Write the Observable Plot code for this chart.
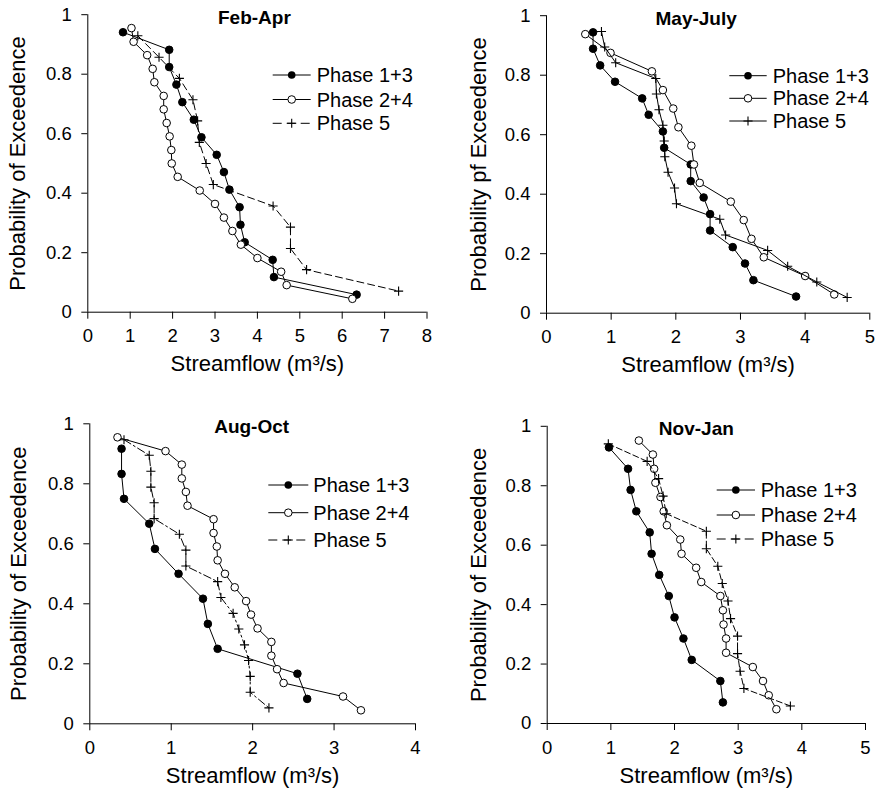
<!DOCTYPE html>
<html>
<head>
<meta charset="utf-8">
<script src="https://cdn.jsdelivr.net/npm/d3@7"></script>
<script src="https://cdn.jsdelivr.net/npm/@observablehq/plot@0.6"></script>
<style>
  body { margin: 0; background: #fff; }
  #chart { position: relative; width: 878px; height: 794px; font-family: "Liberation Sans", Arial, sans-serif; }
</style>
</head>
<body>
<div id="chart"></div>
<script>
// ---------- DATA ----------
const seriesNames = ["Phase 1+3", "Phase 2+4", "Phase 5"];
const probTicks = [0, 0.2, 0.4, 0.6, 0.8, 1];

// Feb-Apr
const febApr_flow13 = [0.83, 1.92, 1.92, 2.09, 2.23, 2.50, 2.68, 3.04, 3.21, 3.34, 3.58, 3.60, 3.70, 4.36, 4.39, 6.34];
const febApr_prob13 = [0.941, 0.882, 0.824, 0.765, 0.706, 0.647, 0.588, 0.529, 0.471, 0.412, 0.353, 0.294, 0.235, 0.176, 0.118, 0.059];
const febApr_flow24 = [1.03, 1.08, 1.40, 1.53, 1.57, 1.79, 1.79, 1.86, 1.93, 1.97, 1.98, 2.12, 2.64, 3.00, 3.21, 3.41, 3.61, 4.00, 4.56, 4.69, 6.24];
const febApr_prob24 = [0.955, 0.909, 0.864, 0.818, 0.773, 0.727, 0.682, 0.636, 0.591, 0.545, 0.5, 0.455, 0.409, 0.364, 0.318, 0.273, 0.227, 0.182, 0.136, 0.091, 0.045];
const febApr_flow5 = [1.18, 1.68, 2.16, 2.48, 2.59, 2.63, 2.79, 2.96, 4.37, 4.78, 4.78, 5.16, 7.33];
const febApr_prob5 = [0.929, 0.857, 0.786, 0.714, 0.643, 0.571, 0.5, 0.429, 0.357, 0.286, 0.214, 0.143, 0.071];
const febApr_xTicks = [0, 1, 2, 3, 4, 5, 6, 7, 8];

// May-July
const mayJul_flow13 = [0.72, 0.72, 0.83, 1.06, 1.48, 1.58, 1.80, 1.82, 2.23, 2.23, 2.43, 2.53, 2.53, 2.88, 3.07, 3.20, 3.86];
const mayJul_prob13 = [0.944, 0.889, 0.833, 0.778, 0.722, 0.667, 0.611, 0.556, 0.5, 0.444, 0.389, 0.333, 0.278, 0.222, 0.167, 0.111, 0.056];
const mayJul_flow24 = [0.60, 0.99, 1.63, 1.80, 1.96, 2.04, 2.24, 2.28, 2.37, 2.85, 3.05, 3.17, 3.36, 4.00, 4.45];
const mayJul_prob24 = [0.938, 0.875, 0.813, 0.75, 0.688, 0.625, 0.563, 0.5, 0.438, 0.375, 0.313, 0.25, 0.188, 0.125, 0.063];
const mayJul_flow5 = [0.85, 0.90, 1.07, 1.69, 1.70, 1.74, 1.80, 1.82, 1.83, 1.88, 1.98, 2.01, 2.68, 2.77, 3.42, 3.73, 4.18, 4.65];
const mayJul_prob5 = [0.947, 0.895, 0.842, 0.789, 0.737, 0.684, 0.632, 0.579, 0.526, 0.474, 0.421, 0.368, 0.316, 0.263, 0.211, 0.158, 0.105, 0.053];
const mayJul_xTicks = [0, 1, 2, 3, 4, 5];

// Aug-Oct
const augOct_flow13 = [0.39, 0.39, 0.42, 0.73, 0.80, 1.09, 1.39, 1.45, 1.57, 2.55, 2.67];
const augOct_prob13 = [0.917, 0.833, 0.75, 0.667, 0.583, 0.5, 0.417, 0.333, 0.25, 0.167, 0.083];
const augOct_flow24 = [0.34, 0.93, 1.13, 1.13, 1.18, 1.20, 1.52, 1.52, 1.56, 1.57, 1.66, 1.78, 1.92, 1.98, 2.06, 2.23, 2.23, 2.30, 2.38, 3.11, 3.33];
const augOct_prob24 = [0.955, 0.909, 0.864, 0.818, 0.773, 0.727, 0.682, 0.636, 0.591, 0.545, 0.5, 0.455, 0.409, 0.364, 0.318, 0.273, 0.227, 0.182, 0.136, 0.091, 0.045];
const augOct_flow5 = [0.42, 0.73, 0.75, 0.75, 0.79, 0.79, 1.10, 1.18, 1.18, 1.57, 1.61, 1.76, 1.83, 1.90, 1.95, 1.97, 1.97, 2.20];
const augOct_prob5 = [0.947, 0.895, 0.842, 0.789, 0.737, 0.684, 0.632, 0.579, 0.526, 0.474, 0.421, 0.368, 0.316, 0.263, 0.211, 0.158, 0.105, 0.053];
const augOct_xTicks = [0, 1, 2, 3, 4];

// Nov-Jan
const novJan_flow13 = [0.97, 1.27, 1.31, 1.40, 1.61, 1.64, 1.76, 1.91, 2.00, 2.14, 2.27, 2.72, 2.76];
const novJan_prob13 = [0.929, 0.857, 0.786, 0.714, 0.643, 0.571, 0.5, 0.429, 0.357, 0.286, 0.214, 0.143, 0.071];
const novJan_flow24 = [1.44, 1.66, 1.68, 1.70, 1.78, 1.83, 1.88, 2.09, 2.11, 2.34, 2.42, 2.72, 2.76, 2.77, 2.81, 2.81, 3.23, 3.39, 3.48, 3.60];
const novJan_prob24 = [0.952, 0.905, 0.857, 0.810, 0.762, 0.714, 0.667, 0.619, 0.571, 0.524, 0.476, 0.429, 0.381, 0.333, 0.286, 0.238, 0.190, 0.143, 0.095, 0.048];
const novJan_flow5 = [0.96, 1.57, 1.75, 1.82, 1.87, 2.50, 2.50, 2.68, 2.75, 2.84, 2.88, 2.99, 2.99, 3.03, 3.09, 3.82];
const novJan_prob5 = [0.941, 0.882, 0.824, 0.765, 0.706, 0.647, 0.588, 0.529, 0.471, 0.412, 0.353, 0.294, 0.235, 0.176, 0.118, 0.059];
const novJan_xTicks = [0, 1, 2, 3, 4, 5];

// ---------- HELPERS ----------
const FONT = '"Liberation Sans", Arial, Helvetica, sans-serif';
const zip = (f, p) => f.map((v, i) => ({flow: v, prob: p[i]}));
const plusSymbol = {
  draw(ctx, size) {
    const r = Math.sqrt(size / Math.PI) * 1.2;
    ctx.moveTo(-r, 0); ctx.lineTo(r, 0);
    ctx.moveTo(0, -r); ctx.lineTo(0, r);
  }
};
const DOT_R = 3.8;

const panels = [
  {
    title: "Feb-Apr", ylabel: "Probability of Exceedence", xmax: 8, xTicks: febApr_xTicks,
    s13: zip(febApr_flow13, febApr_prob13), s24: zip(febApr_flow24, febApr_prob24), s5: zip(febApr_flow5, febApr_prob5),
    dash5: "7,4",
    left: 0, top: 0, width: 439, height: 397, ml: 87.3, mr: 12.5, mt: 14.2, mb: 85.3,
    titleDx: -3, titleDy: 3, yLabelDx: -70,
    legend: {x0: 272.7, x1: 310.7, tx: 316.7, ys: [75, 99.5, 123.3]}
  },
  {
    title: "May-July", ylabel: "Probability pf Exceedence", xmax: 5, xTicks: mayJul_xTicks,
    s13: zip(mayJul_flow13, mayJul_prob13), s24: zip(mayJul_flow24, mayJul_prob24), s5: zip(mayJul_flow5, mayJul_prob5),
    dash5: null,
    left: 439, top: 0, width: 439, height: 397, ml: 107, mr: 8.7, mt: 15.2, mb: 84.3,
    titleDx: -12, titleDy: 3, yLabelDx: -68,
    legend: {x0: 729.3, x1: 766.7, tx: 772.7, ys: [75.7, 98.3, 121]}
  },
  {
    title: "Aug-Oct", ylabel: "Probability of Exceedence", xmax: 4, xTicks: augOct_xTicks,
    s13: zip(augOct_flow13, augOct_prob13), s24: zip(augOct_flow24, augOct_prob24), s5: zip(augOct_flow5, augOct_prob5),
    dash5: "8,3,2,3",
    left: 0, top: 397, width: 439, height: 397, ml: 89.3, mr: 24, mt: 26.3, mb: 70.7,
    titleDx: -1, titleDy: 3, yLabelDx: -71,
    legend: {x0: 268.3, x1: 308.3, tx: 313.3, ys: [485, 512.7, 540]}
  },
  {
    title: "Nov-Jan", ylabel: "Probability of Exceedence", xmax: 5, xTicks: novJan_xTicks,
    s13: zip(novJan_flow13, novJan_prob13), s24: zip(novJan_flow24, novJan_prob24), s5: zip(novJan_flow5, novJan_prob5),
    dash5: "6,3",
    left: 439, top: 397, width: 439, height: 397, ml: 107.7, mr: 13, mt: 28.8, mb: 71,
    titleDx: -10, titleDy: 3, yLabelDx: -68,
    legend: {x0: 716.7, x1: 755, tx: 760.7, ys: [490, 515, 539]}
  }
];

function makePanel(p) {
  return Plot.plot({
    width: p.width, height: p.height,
    marginLeft: p.ml, marginRight: p.mr, marginTop: p.mt, marginBottom: p.mb,
    style: {fontFamily: FONT, fontSize: "18.5px", color: "black", background: "white", overflow: "visible"},
    x: {domain: [0, p.xmax], ticks: p.xTicks, tickSize: 7, tickPadding: 10, tickFormat: d => String(d), label: null},
    y: {domain: [0, 1], ticks: probTicks, tickSize: 6, tickPadding: 10, tickFormat: d => String(d), label: null},
    marks: [
      Plot.ruleX([0], {stroke: "black", strokeWidth: 1}),
      Plot.ruleY([0], {stroke: "black", strokeWidth: 1}),
      Plot.line(p.s13, {x: "flow", y: "prob", stroke: "black", strokeWidth: 1}),
      Plot.dot(p.s13, {x: "flow", y: "prob", r: DOT_R, fill: "black", stroke: "black", strokeWidth: 1}),
      Plot.line(p.s24, {x: "flow", y: "prob", stroke: "black", strokeWidth: 1}),
      Plot.dot(p.s24, {x: "flow", y: "prob", r: DOT_R, fill: "white", stroke: "black", strokeWidth: 1}),
      Plot.line(p.s5, {x: "flow", y: "prob", stroke: "black", strokeWidth: 1, strokeDasharray: p.dash5 || undefined}),
      Plot.dot(p.s5, {x: "flow", y: "prob", r: DOT_R, symbol: plusSymbol, fill: "none", stroke: "black", strokeWidth: 1.1}),
      Plot.text([p.title], {text: d => d, frameAnchor: "top", lineAnchor: "middle", textAnchor: "middle", dx: p.titleDx, dy: p.titleDy, fontWeight: "bold", fontSize: 19, fill: "black"}),
      Plot.text(["Streamflow (m³/s)"], {text: d => d, frameAnchor: "bottom", lineAnchor: "middle", textAnchor: "middle", dy: 52, fontSize: 22, fill: "black"}),
      Plot.text([p.ylabel], {text: d => d, frameAnchor: "left", lineAnchor: "middle", textAnchor: "middle", dx: p.yLabelDx, rotate: -90, fontSize: 22, fill: "black"})
    ]
  });
}

const chart = document.getElementById("chart");
panels.forEach(p => {
  const svg = makePanel(p);
  svg.style.position = "absolute";
  svg.style.left = p.left + "px";
  svg.style.top = p.top + "px";
  chart.appendChild(svg);
});

// ---------- LEGENDS (overlay) ----------
const overlay = d3.select(chart).append("svg")
  .attr("width", 878).attr("height", 794)
  .style("position", "absolute").style("left", "0px").style("top", "0px")
  .style("pointer-events", "none")
  .style("font-family", FONT);

panels.forEach(p => {
  const L = p.legend;
  const cx = (L.x0 + L.x1) / 2;
  seriesNames.forEach((name, i) => {
    const y = L.ys[i];
    const g = overlay.append("g");
    const line = g.append("line").attr("x1", L.x0).attr("x2", L.x1).attr("y1", y).attr("y2", y)
      .attr("stroke", "black").attr("stroke-width", 1);
    if (i === 2 && p.dash5) line.attr("stroke-dasharray", "9,5");
    if (i === 0) g.append("circle").attr("cx", cx).attr("cy", y).attr("r", DOT_R).attr("fill", "black");
    if (i === 1) g.append("circle").attr("cx", cx).attr("cy", y).attr("r", DOT_R).attr("fill", "white").attr("stroke", "black");
    if (i === 2) {
      const r = DOT_R * 1.2;
      g.append("path").attr("d", `M${cx - r},${y}H${cx + r}M${cx},${y - r}V${y + r}`).attr("stroke", "black").attr("stroke-width", 1.1);
    }
    g.append("text").attr("x", L.tx).attr("y", y).attr("dy", "0.35em")
      .attr("font-size", 20).attr("fill", "black").text(name);
  });
});
</script>
</body>
</html>
